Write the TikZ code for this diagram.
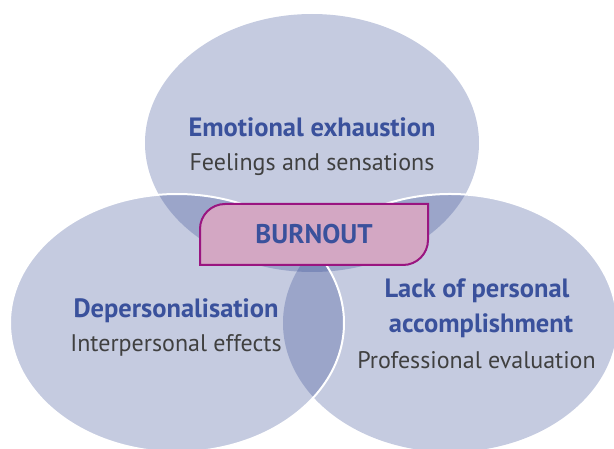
\documentclass[tikz,border=0pt]{standalone}
\usepackage{fontspec}
\setmainfont{PT Sans}
\usetikzlibrary{shapes.geometric}
\definecolor{ellc}{RGB}{45,67,143}
\definecolor{titleblue}{RGB}{58,81,156}
\definecolor{subgray}{RGB}{64,64,64}
\definecolor{boxfill}{RGB}{211,167,195}
\definecolor{boxline}{RGB}{154,21,128}
\begin{document}
\begin{tikzpicture}[x=1pt,y=1pt,
  venn/.style={ellipse, minimum width=334pt, minimum height=258pt, inner sep=0pt, outer sep=0pt, fill=ellc, fill opacity=0.28},
  whiteedge/.style={draw=white, line width=2pt},
  titletext/.style={font=\bfseries\fontsize{26.5}{30}\selectfont, text=titleblue, inner sep=0pt, anchor=base},
  subtext/.style={font=\fontsize{24}{28}\selectfont, text=subgray, inner sep=0pt, anchor=base},
  boxshape/.style={rectangle, minimum width=228pt, minimum height=61pt, inner sep=0pt, outer sep=0pt},
  boxpath/.style={fill=boxfill, draw=boxline, line width=2pt},
  boxtext/.style={font=\bfseries\fontsize{27}{30}\selectfont, text=titleblue, inner sep=0pt}]
\clip (0,0) rectangle (614,448);
\node[venn] (top) at (312,305) {};
\node[venn] (right) at (450,125) {};
\node[venn, whiteedge] (left) at (177,125) {};
\draw[whiteedge] ([shift={(145:167pt and 129pt)}]right.center) arc[start angle=145, end angle=0, x radius=167pt, y radius=129pt];
\node[boxshape] (B) at (314,213.5) {};
\draw[boxpath] (B.south west) -- ([yshift=-25pt]B.north west) arc[start angle=180, end angle=90, radius=25pt] -- (B.north east) -- ([yshift=25pt]B.south east) arc[start angle=0, end angle=-90, radius=25pt] -- cycle;
\node[boxtext] (burnout) at (B.center) {BURNOUT};
\node[titletext] (ee) at (312,311) {Emotional exhaustion};
\node[subtext] (fs) at (312,277) {Feelings and sensations};
\node[titletext] (dp) at (176,131) {Depersonalisation};
\node[subtext] (ie) at (176,97) {Interpersonal effects};
\node[titletext] (lp) at (477,150) {Lack of personal};
\node[titletext] (ac) at (481,115) {accomplishment};
\node[subtext] (pe) at (476.5,80) {Professional evaluation};
\end{tikzpicture}
\end{document}
